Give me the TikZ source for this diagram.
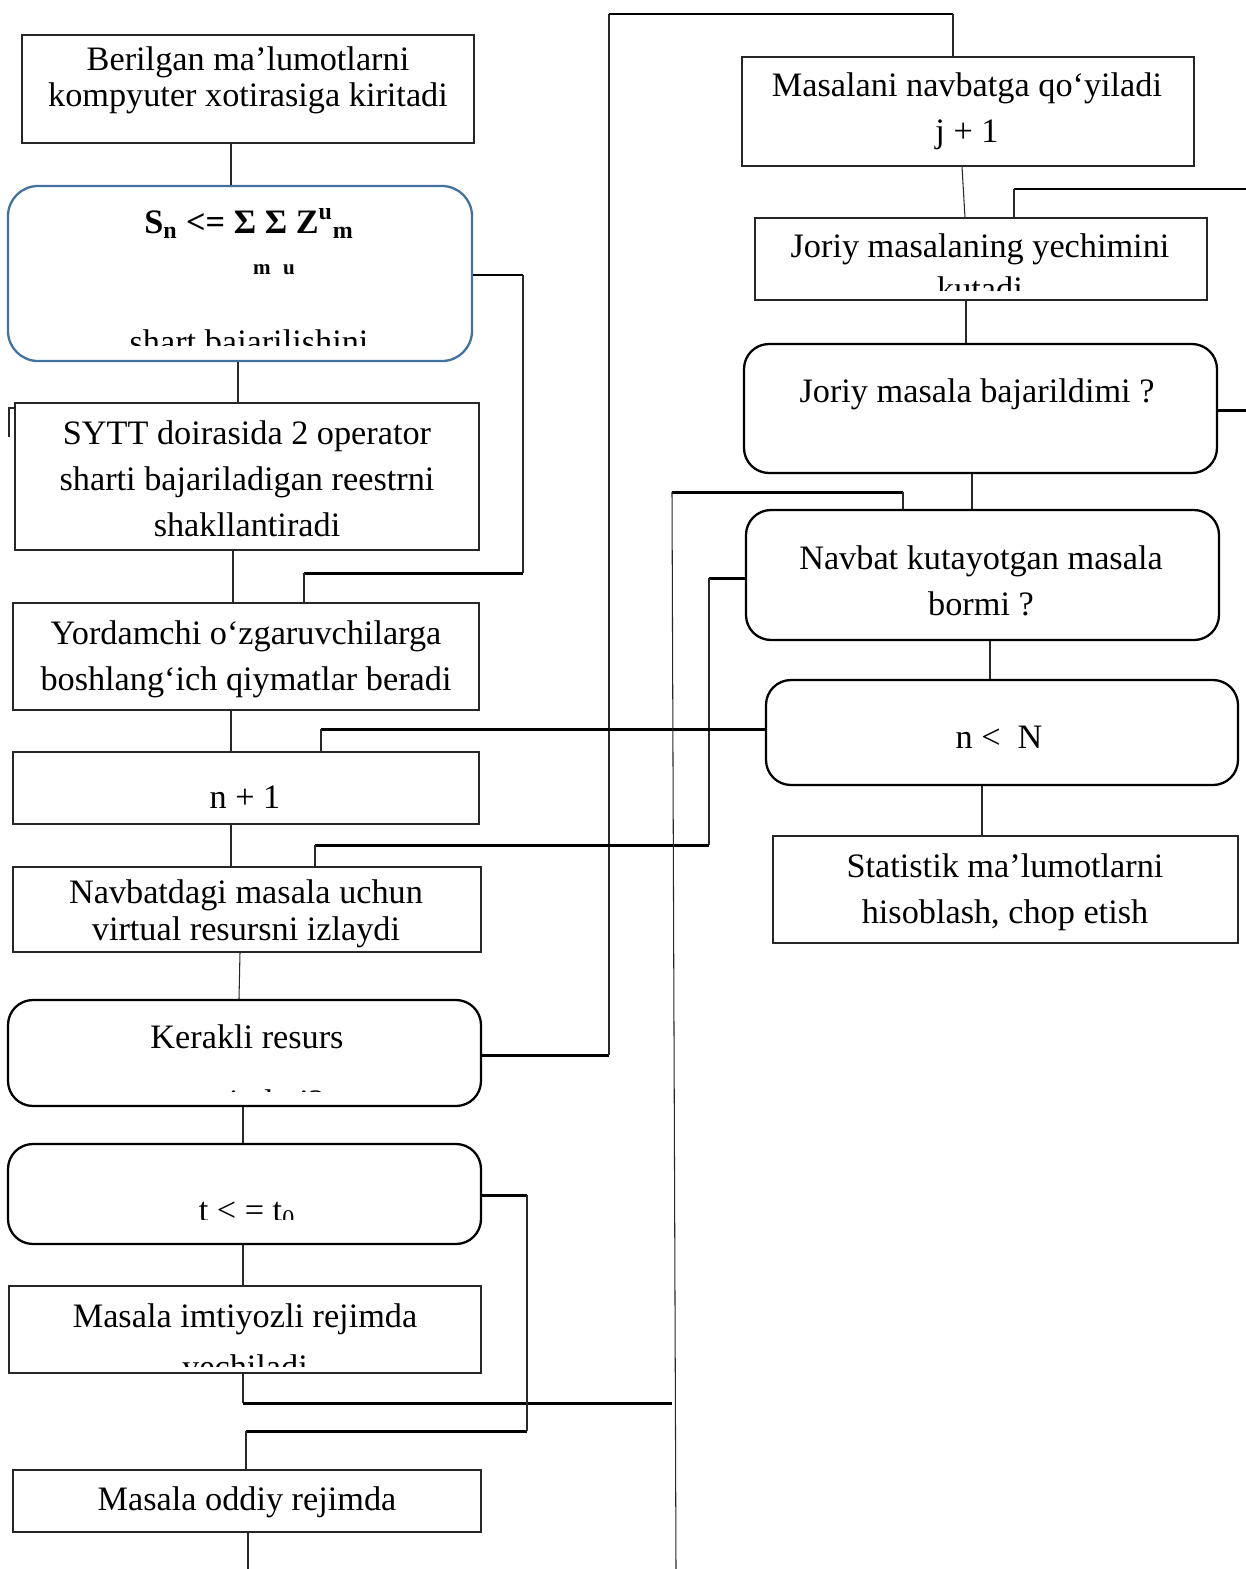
\documentclass[tikz,border=0pt]{standalone}
\usepackage{fontspec}
\setmainfont{Liberation Serif}
\usetikzlibrary{fit,calc}
\definecolor{CondBlue}{RGB}{65,113,156}
\definecolor{LinkGray}{RGB}{40,40,40}

\begin{document}
\begin{tikzpicture}[
    x=0.02cm, y=-0.02cm,
    every node/.style={inner sep=0pt},
    box/.style={rectangle, draw=black!85, line width=0.6pt},
    rbox/.style={rectangle, draw=black, line width=1.3pt, rounded corners=0.5cm},
    cbox/.style={rbox, draw=CondBlue, rounded corners=0.6cm},
    txt/.style={font=\fontsize{19.5}{26}\selectfont, anchor=base, align=center},
    tight/.style={txt, font=\fontsize{19.5}{20.4}\selectfont},
    link/.style={draw=LinkGray, line width=0.6pt},
    heavy/.style={draw=black, line width=1.7pt}
  ]
    \useasboundingbox (0,0) rectangle (1246,1569);

    % Left column boxes
    \node[box, fit={(22,35) (474,143)}] (input) {};
    \node[cbox, fit={(8,186) (472,361)}] (cond) {};
    \node[box, fit={(15,403) (479,550)}] (reg) {};
    \node[box, fit={(13,603) (479,710)}] (init) {};
    \node[box, fit={(13,752) (479,824)}] (inc) {};
    \node[box, fit={(13,867) (481,952)}] (search) {};
    \node[rbox, fit={(8,1000) (481,1106)}] (res) {};
    \node[rbox, fit={(8,1144) (481,1244)}] (time) {};
    \node[box, fit={(9,1286) (481,1373)}] (priv) {};
    \node[box, fit={(13,1470) (481,1532)}] (plain) {};

    % Right column boxes
    \node[box, fit={(742,57) (1194,166)}] (queue) {};
    \node[box, fit={(755,218) (1207,300)}] (wait) {};
    \node[rbox, fit={(744,344) (1217,473)}] (done) {};
    \node[rbox, fit={(746,510) (1219,640)}] (pend) {};
    \node[rbox, fit={(766,680) (1238,785)}] (cmp) {};
    \node[box, fit={(773,836) (1238,943)}] (stat) {};

    % Texts (base = last line)
    \node[tight] (input-t) at (248,106) {Berilgan ma’lumotlarni\\kompyuter xotirasiga kiritadi};
    \node[txt, font=\fontsize{19.5}{24}\bfseries] (cond-t) at (249,233) {S\textsubscript{n} <= Σ Σ Z\textsuperscript{u}\textsubscript{m}};
    \node[txt, font=\fontsize{12}{14}\bfseries] (cond-s) at (274,274) {m\hspace{7pt}u};
    \begin{scope}
      \clip (10,190) rectangle (470,345);
      \node[txt] (cond-c) at (249,353) {shart bajarilishini};
    \end{scope}
    \node[txt] (reg-t) at (247,536) {SYTT doirasida 2 operator\\sharti bajariladigan reestrni\\shakllantiradi};
    \node[txt] (init-t) at (246,690) {Yordamchi o‘zgaruvchilarga\\boshlang‘ich qiymatlar beradi};
    \node[txt] (inc-t) at (245,808) {n + 1};
    \node[txt, font=\fontsize{19.5}{21}\selectfont] (search-t) at (246,940) {Navbatdagi masala uchun\\virtual resursni izlaydi};
    \node[txt] (res-t) at (247,1048) {Kerakli resurs};
    \begin{scope}
      \clip (10,1002) rectangle (480,1091);
      \node[txt] (res-c) at (247,1113) {mavjudmi?};
    \end{scope}
    \begin{scope}
      \clip (10,1146) rectangle (480,1219);
      \node[txt] (time-t) at (247,1221) {t < = t\textsubscript{0}};
    \end{scope}
    \node[txt] (priv-t) at (245,1327) {Masala imtiyozli rejimda};
    \begin{scope}
      \clip (10,1287) rectangle (480,1366);
      \node[txt] (priv-c) at (245,1378) {yechiladi};
    \end{scope}
    \node[txt] (plain-t) at (247,1510) {Masala oddiy rejimda};

    \node[txt] (queue-t) at (967,142) {Masalani navbatga qo‘yiladi\\j + 1};
    \node[txt] (wait-t) at (980,257) {Joriy masalaning yechimini};
    \begin{scope}
      \clip (756,219) rectangle (1206,290);
      \node[txt] (wait-c) at (980,300) {kutadi};
    \end{scope}
    \node[txt] (done-t) at (977,402) {Joriy masala bajarildimi ?};
    \node[txt] (pend-t) at (981,615) {Navbat kutayotgan masala\\bormi ?};
    \node[txt] (cmp-t) at (999,748) {n <\ \ N};
    \node[txt] (stat-t) at (1005,923) {Statistik ma’lumotlarni\\hisoblash, chop etish};

    % Joints
    \coordinate (cturn) at (523,275);
    \coordinate (cback) at (304,573);
    \coordinate (stub) at (9,437);
    \coordinate (cback2) at (321,729);
    \coordinate (pturn) at (709,578);
    \coordinate (pback) at (315,845);
    \coordinate (rturn) at (609,1055);
    \coordinate (rtop) at (953,14);
    \coordinate (tturn) at (527,1195);
    \coordinate (mergeA) at (243,1403);
    \coordinate (mergeB) at (246,1431);
    \coordinate (exitBot) at (248,1569);
    \coordinate (loopTop) at (672,492);
    \coordinate (loopEnd) at (676,1569);
    \coordinate (dtick) at (903,492);
    \coordinate (wtick) at (1014,189);
    \coordinate (edgeA) at (1246,189);
    \coordinate (edgeB) at (1246,410);

    % Left column links
    \draw[link] (input.south -| 231,0) -- (cond.north -| 231,0);
    \draw[link] (cond.south -| 238,0) -- (reg.north -| 238,0);
    \draw[link] (reg.south -| 233,0) -- (init.north -| 233,0);
    \draw[link] (init.south -| 231,0) -- (inc.north -| 231,0);
    \draw[link] (inc.south -| 231,0) -- (search.north -| 231,0);
    \draw[link] (search.south -| 240,0) -- (res.north -| 239,0);
    \draw[link] (res.south -| 243,0) -- (time.north -| 243,0);
    \draw[link] (time.south -| 243,0) -- (priv.north -| 243,0);
    \draw[link] (priv.south -| mergeA) -- (mergeA);
    \draw[heavy] (mergeA) -- (mergeA -| loopTop);
    \draw[heavy] (time.east |- tturn) -- (tturn);
    \draw[link] (tturn) -- (tturn |- mergeB);
    \draw[heavy] (tturn |- mergeB) -- (mergeB);
    \draw[link] (mergeB) -- (plain.north -| mergeB);
    \draw[link] (plain.south -| exitBot) -- (exitBot);
    \draw[link] (stub) |- (reg.west |- 0,408);

    % Loops back
    \draw[heavy] (cond.east |- cturn) -- (cturn);
    \draw[link] (cturn) -- (cturn |- cback);
    \draw[heavy] (cturn |- cback) -- (cback);
    \draw[link] (cback) -- (init.north -| cback);

    \draw[heavy] (res.east |- rturn) -- (rturn);
    \draw[link] (rturn) -- (rturn |- rtop);
    \draw[heavy] (rturn |- rtop) -- (rtop);
    \draw[link] (rtop) -- (queue.north -| rtop);

    \draw[heavy] (pend.west |- pturn) -- (pturn);
    \draw[link] (pturn) -- (pturn |- pback);
    \draw[heavy] (pturn |- pback) -- (pback);
    \draw[link] (pback) -- (search.north -| pback);

    \draw[heavy] (cmp.west |- cback2) -- (cback2);
    \draw[link] (cback2) -- (inc.north -| cback2);

    % Right column links
    \draw[link] (queue.south -| 962,0) -- (wait.north -| 965,0);
    \draw[heavy] (edgeA) -- (wtick);
    \draw[link] (wtick) -- (wait.north -| wtick);
    \draw[link] (wait.south -| 966,0) -- (done.north -| 966,0);
    \draw[heavy] (done.east |- edgeB) -- (edgeB);
    \draw[link] (done.south -| 972,0) -- (pend.north -| 972,0);
    \draw[heavy] (loopTop) -- (dtick);
    \draw[link] (dtick) -- (pend.north -| dtick);
    \draw[link] (loopTop) -- (loopEnd);
    \draw[link] (pend.south -| 990,0) -- (cmp.north -| 990,0);
    \draw[link] (cmp.south -| 982,0) -- (stat.north -| 982,0);
  \end{tikzpicture}
\end{document}
